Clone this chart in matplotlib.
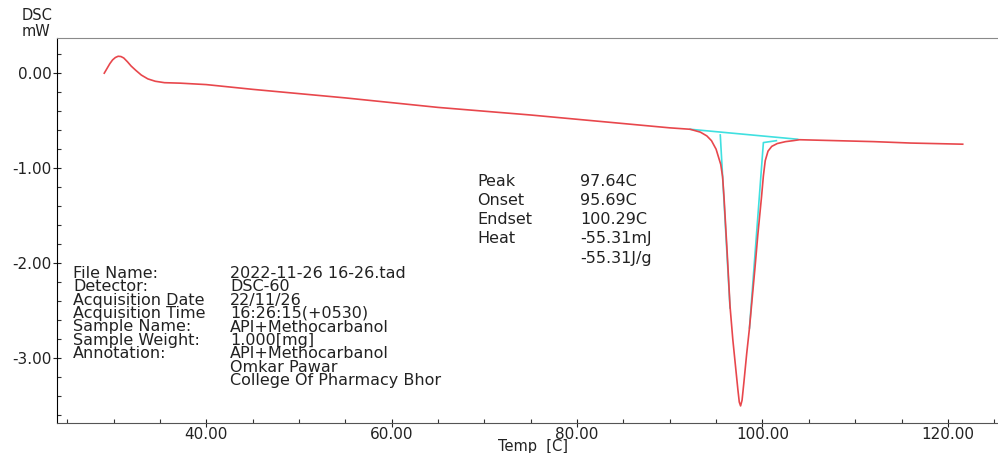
import matplotlib.pyplot as plt
from matplotlib.ticker import MultipleLocator, FormatStrFormatter

# DSC curve (temp in C, heat flow in mW)
temp = [29.0, 29.3, 29.6, 29.9, 30.2, 30.5, 30.8, 31.1, 31.5, 31.9, 32.4,
        33.0, 33.7, 34.5, 35.5, 37.2,
        40.0, 45.0, 50.0, 55.0, 60.0, 65.0, 70.0, 75.0, 80.0, 85.0, 90.0,
        92.2, 93.3, 94.0, 94.5, 95.0, 95.5, 95.7, 95.85, 96.2, 96.5, 96.8,
        97.1, 97.35, 97.5, 97.64, 97.8, 98.0, 98.3, 98.6, 98.9, 99.2, 99.5,
        99.9, 100.1, 100.3, 100.6, 101.0, 101.6, 102.5, 103.3,
        104.0, 108.0, 112.0, 116.0, 121.6]
dsc = [0.00, 0.05, 0.10, 0.14, 0.165, 0.178, 0.175, 0.16, 0.12, 0.075, 0.03,
       -0.02, -0.06, -0.085, -0.10, -0.105,
       -0.12, -0.17, -0.215, -0.26, -0.31, -0.36, -0.40, -0.44, -0.485, -0.53, -0.575,
       -0.59, -0.62, -0.66, -0.71, -0.80, -0.96, -1.09, -1.30, -1.90, -2.45, -2.80,
       -3.09, -3.33, -3.46, -3.50, -3.44, -3.25, -2.95, -2.68, -2.36, -2.04, -1.70,
       -1.30, -1.08, -0.92, -0.82, -0.77, -0.74, -0.72, -0.71,
       -0.70, -0.71, -0.72, -0.735, -0.747]

# analysis construction lines
base_t = [92.2, 103.8]
base_v = [-0.59, -0.695]
onset_t = [95.45, 96.5]
onset_v = [-0.65, -2.47]
endset_t = [101.5, 100.1, 98.6]
endset_v = [-0.71, -0.73, -2.68]

result_names = ["Peak", "Onset", "Endset", "Heat", ""]
result_values = ["97.64C", "95.69C", "100.29C", "-55.31mJ", "-55.31J/g"]

info_names = ["File Name:", "Detector:", "Acquisition Date", "Acquisition Time",
              "Sample Name:", "Sample Weight:", "Annotation:", "", ""]
info_values = ["2022-11-26 16-26.tad", "DSC-60", "22/11/26", "16:26:15(+0530)",
               "API+Methocarbanol", "1.000[mg]", "API+Methocarbanol",
               "Omkar Pawar", "College Of Pharmacy Bhor"]

plt.rcParams["font.family"] = "DejaVu Sans"
fig = plt.figure(figsize=(9.98, 4.53), dpi=100)
ax = fig.add_axes([0.0571, 0.0662, 0.9419, 0.8499])

ax.plot(temp, dsc, color="#e8474c", lw=1.2, zorder=3)
ax.plot(base_t, base_v, color="#40e0e0", lw=1.2, zorder=2)
ax.plot(onset_t, onset_v, color="#40e0e0", lw=1.2, zorder=2)
ax.plot(endset_t, endset_v, color="#40e0e0", lw=1.2, zorder=2)

ax.set_xlim(23.9, 125.3)
ax.set_ylim(-3.68, 0.37)

ax.xaxis.set_major_locator(MultipleLocator(20))
ax.xaxis.set_minor_locator(MultipleLocator(5))
ax.yaxis.set_major_locator(MultipleLocator(1))
ax.yaxis.set_minor_locator(MultipleLocator(0.2))
ax.xaxis.set_major_formatter(FormatStrFormatter("%.2f"))
ax.yaxis.set_major_formatter(FormatStrFormatter("%.2f"))
ax.tick_params(which="major", direction="inout", length=6, width=0.8,
               labelsize=11, colors="#222222", pad=0)
ax.tick_params(which="minor", direction="in", length=3, width=0.8, color="#333333")
ax.tick_params(axis="y", which="major", pad=1)

ax.spines["right"].set_visible(False)
ax.spines["top"].set_color("#8a8a8a")
ax.spines["left"].set_color("black")
ax.spines["bottom"].set_color("#555555")

fig.text(533 / 998, 1 - 446 / 453, "Temp  [C]", fontsize=10.5, ha="center",
         va="center", color="#222222")
fig.text(0.022, 1 - 15 / 453, "DSC", fontsize=10.5, ha="left", va="center", color="#222222")
fig.text(0.022, 1 - 31 / 453, "mW", fontsize=10.5, ha="left", va="center", color="#222222")

# peak analysis results
for i, (n, v) in enumerate(zip(result_names, result_values)):
    y = 1 - (181 + i * 19.3) / 453
    fig.text(477 / 998, y, n, fontsize=11.5, ha="left", va="center", color="#222222")
    fig.text(580 / 998, y, v, fontsize=11.5, ha="left", va="center", color="#222222")

# file information block
for i, (n, v) in enumerate(zip(info_names, info_values)):
    y = 1 - (273 + i * 13.5) / 453
    fig.text(73 / 998, y, n, fontsize=11.5, ha="left", va="center", color="#222222")
    fig.text(230 / 998, y, v, fontsize=11.5, ha="left", va="center", color="#222222")

fig.savefig("out.png", dpi=100)
